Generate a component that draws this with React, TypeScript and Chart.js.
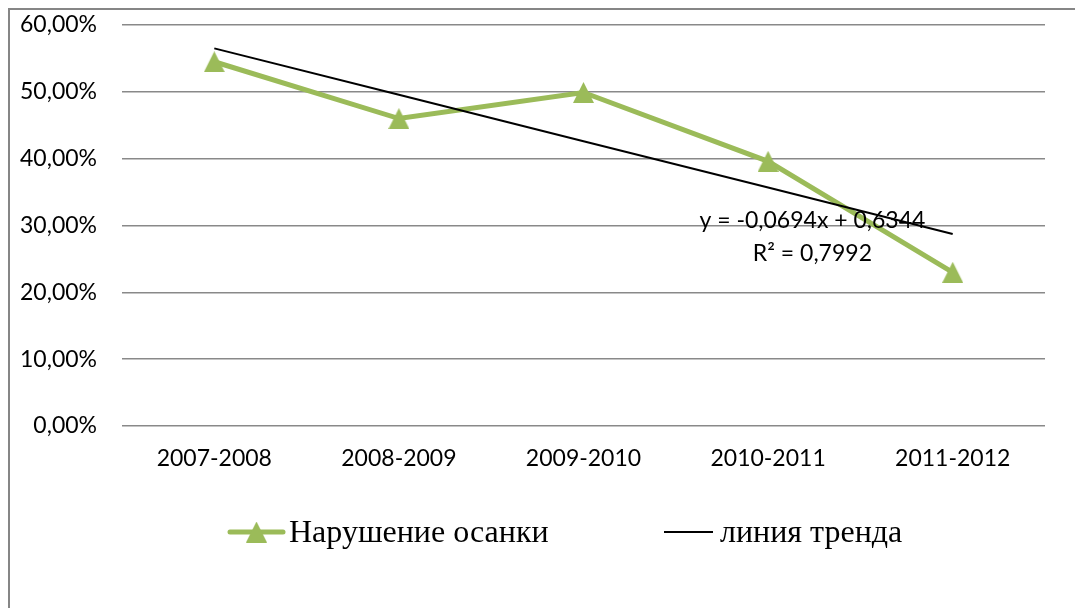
import React, { useEffect, useRef } from "react";
import { Chart, registerables } from "chart.js";

Chart.register(...registerables);

const categories = ["2007-2008", "2008-2009", "2009-2010", "2010-2011", "2011-2012"];
const postureValues = [54.5, 46.0, 49.9, 39.6, 23.0];
const trendValues = [56.5, 49.56, 42.62, 35.68, 28.74];
const yMin = 0;
const yMax = 60;
const yStep = 10;
const seriesLabel = "Нарушение осанки";
const trendLabel = "линия тренда";
const trendEquation = "y = -0,0694x + 0,6344";
const trendR2 = "R² = 0,7992";

const GREEN = "#9BBB59";
const GRID = "#898989";
const AXIS_FONT = "Lato";

function makeTriangle(w: number, h: number, color: string) {
  const c = document.createElement("canvas");
  c.width = w;
  c.height = h;
  const ctx = c.getContext("2d")!;
  ctx.fillStyle = color;
  ctx.beginPath();
  ctx.moveTo(w / 2, 0);
  ctx.lineTo(w, h);
  ctx.lineTo(0, h);
  ctx.closePath();
  ctx.fill();
  return c;
}

export default function App() {
  const ref = useRef<HTMLCanvasElement | null>(null);

  useEffect(() => {
    if (!ref.current) return;
    const tri = makeTriangle(21, 21, GREEN);

    const annotations = {
      id: "trendAnnot",
      afterDatasetsDraw(chart: any) {
        const ctx = chart.ctx;
        const xs = chart.scales.x;
        const ys = chart.scales.y;
        ctx.save();
        ctx.fillStyle = "#000";
        ctx.font = `23px ${AXIS_FONT}`;
        ctx.textAlign = "center";
        ctx.textBaseline = "alphabetic";
        const cx = xs.getPixelForValue(3.24);
        ctx.fillText(trendEquation, cx, ys.getPixelForValue(29.6));
        ctx.fillText(trendR2, cx, ys.getPixelForValue(24.7));
        ctx.restore();
      },
      afterDraw(chart: any) {
        const ctx = chart.ctx;
        const ly = 522;
        ctx.save();
        // series legend
        ctx.strokeStyle = GREEN;
        ctx.lineWidth = 5;
        ctx.lineCap = "round";
        ctx.beginPath();
        ctx.moveTo(220, ly);
        ctx.lineTo(273, ly);
        ctx.stroke();
        ctx.drawImage(tri, 246.5 - 10.5, ly - 10.5);
        ctx.fillStyle = "#000";
        ctx.font = `32px "Liberation Serif"`;
        ctx.textBaseline = "middle";
        ctx.textAlign = "left";
        ctx.fillText(seriesLabel, 279, ly + 2);
        // trend legend
        ctx.strokeStyle = "#000";
        ctx.lineWidth = 2;
        ctx.lineCap = "butt";
        ctx.beginPath();
        ctx.moveTo(654, ly);
        ctx.lineTo(703, ly);
        ctx.stroke();
        ctx.fillText(trendLabel, 710, ly + 2);
        ctx.restore();
      },
    };

    const chart = new Chart(ref.current, {
      type: "line",
      data: {
        labels: categories,
        datasets: [
          {
            label: trendLabel,
            data: trendValues,
            borderColor: "#000",
            borderWidth: 2,
            pointRadius: 0,
            tension: 0,
            order: 0,
          },
          {
            label: seriesLabel,
            data: postureValues,
            borderColor: GREEN,
            backgroundColor: GREEN,
            borderWidth: 5,
            pointStyle: tri as any,
            pointRadius: 10,
            tension: 0,
            order: 1,
          },
        ],
      },
      options: {
        animation: false,
        responsive: false,
        layout: { padding: { left: 0, right: 38, top: 13, bottom: 132 } },
        plugins: {
          legend: { display: false },
          tooltip: { enabled: false },
        },
        scales: {
          x: {
            offset: true,
            grid: { display: false, drawTicks: false },
            border: { display: false },
            ticks: {
              color: "#000",
              padding: 19,
              font: { family: AXIS_FONT, size: 23 },
            },
            afterFit(scale: any) {
              scale.height = 50;
            },
          },
          y: {
            min: yMin,
            max: yMax,
            grid: { color: GRID, lineWidth: 1.5, drawTicks: false },
            border: { display: false },
            ticks: {
              stepSize: yStep,
              color: "#000",
              padding: 25,
              font: { family: AXIS_FONT, size: 23, lineHeight: 1 },
              callback: (v: any) => Number(v).toFixed(2).replace(".", ",") + "%",
            },
            afterFit(scale: any) {
              scale.width = 112;
              scale.paddingTop = 0;
              scale.paddingBottom = 0;
            },
          },
        },
      },
      plugins: [annotations],
    });
    return () => chart.destroy();
  }, []);

  return (
    <div
      style={{
        width: 1075,
        height: 600,
        borderTop: "2px solid #868686",
        borderLeft: "2px solid #868686",
        boxSizing: "border-box",
        overflow: "hidden",
      }}
    >
      <canvas ref={ref} width={1073} height={598} style={{ display: "block" }} />
    </div>
  );
}
